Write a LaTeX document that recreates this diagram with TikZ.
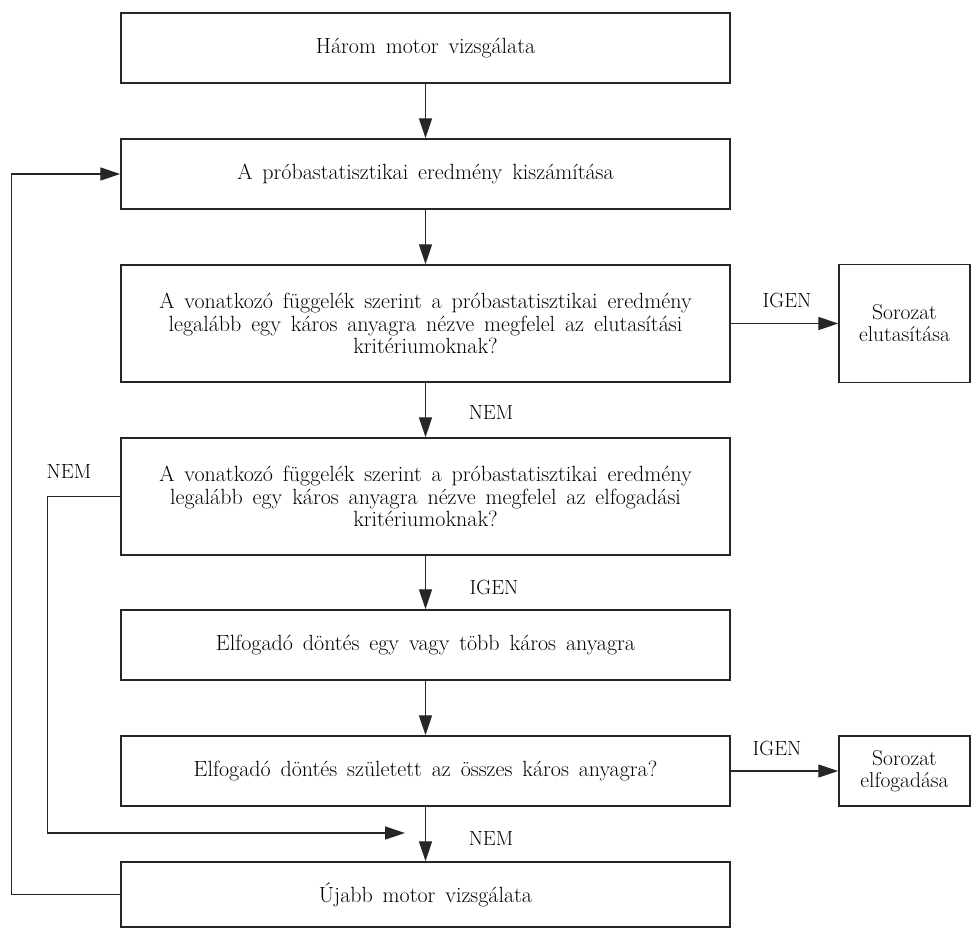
\documentclass[tikz,border=0pt]{standalone}
\usetikzlibrary{arrows.meta}
\newcommand\myWideSpaces{\spaceskip=0.45em plus 0.1em\relax}
\begin{document}
\begin{tikzpicture}[x=1pt,y=-1pt,
  box/.style={draw=black!85, line width=1.5pt, rectangle, inner sep=0pt, align=center,
    font={\fontsize{22}{22.5}\selectfont\myWideSpaces}, minimum width=609pt},
  sidebox/.style={draw=black!85, line width=1.5pt, rectangle, inner sep=0pt, align=center,
    font={\fontsize{21.5}{22}\selectfont}, minimum width=131pt},
  arr/.style={-{Triangle[length=20pt,width=13pt]}, line width=1.4pt, draw=black!85},
  lbl/.style={font={\fontsize{20.5}{21}\selectfont}, inner sep=0pt}]
\useasboundingbox (0,0) rectangle (972,929);
\node[box, minimum height=70pt] (b1) at (425.5,48) {Három motor vizsgálata};
\node[box, minimum height=70pt] (b2) at (425.5,174) {A próbastatisztikai eredmény kiszámítása};
\node[box, minimum height=117pt] (b3) at (425.5,323.5) {A vonatkozó függelék szerint a próbastatisztikai eredmény\\legalább egy káros anyagra nézve megfelel az elutasítási\\kritériumoknak?};
\node[box, minimum height=117pt] (b4) at (425.5,496.5) {A vonatkozó függelék szerint a próbastatisztikai eredmény\\legalább egy káros anyagra nézve megfelel az elfogadási\\kritériumoknak?};
\node[box, minimum height=70pt] (b5) at (425.5,645) {Elfogadó döntés egy vagy több káros anyagra};
\node[box, minimum height=70pt] (b6) at (425.5,771) {Elfogadó döntés született az összes káros anyagra?};
\node[box, minimum height=65pt] (b7) at (425.5,894.5) {Újabb motor vizsgálata};
\node[sidebox, minimum height=118pt] (r1) at (904.5,323.5) {Sorozat\\elutasítása};
\node[sidebox, minimum height=70pt] (r2) at (904.5,771) {Sorozat\\elfogadása};

\draw[arr] (b1) -- (b2);
\draw[arr] (b2) -- (b3);
\draw[arr] (b3) -- (b4);
\draw[arr] (b4) -- (b5);
\draw[arr] (b5) -- (b6);
\draw[arr] (b6) -- (b7);
\draw[arr] (b3) -- (r1);
\draw[arr] (b6) -- (r2);
\coordinate (nemend) at (405,833);
\draw[arr] (b4.west) -- ++(-73,0) |- (nemend);
\draw[arr] (b7.west) -- ++(-109,0) |- (b2.west);

\node[lbl] (l1) at (491,412) {NEM};
\node[lbl] (l2) at (494,587) {IGEN};
\node[lbl] (l3) at (491,838) {NEM};
\node[lbl] (l4) at (69,471) {NEM};
\node[lbl] (l5) at (787,300) {IGEN};
\node[lbl] (l6) at (777,748) {IGEN};
\end{tikzpicture}
\end{document}
